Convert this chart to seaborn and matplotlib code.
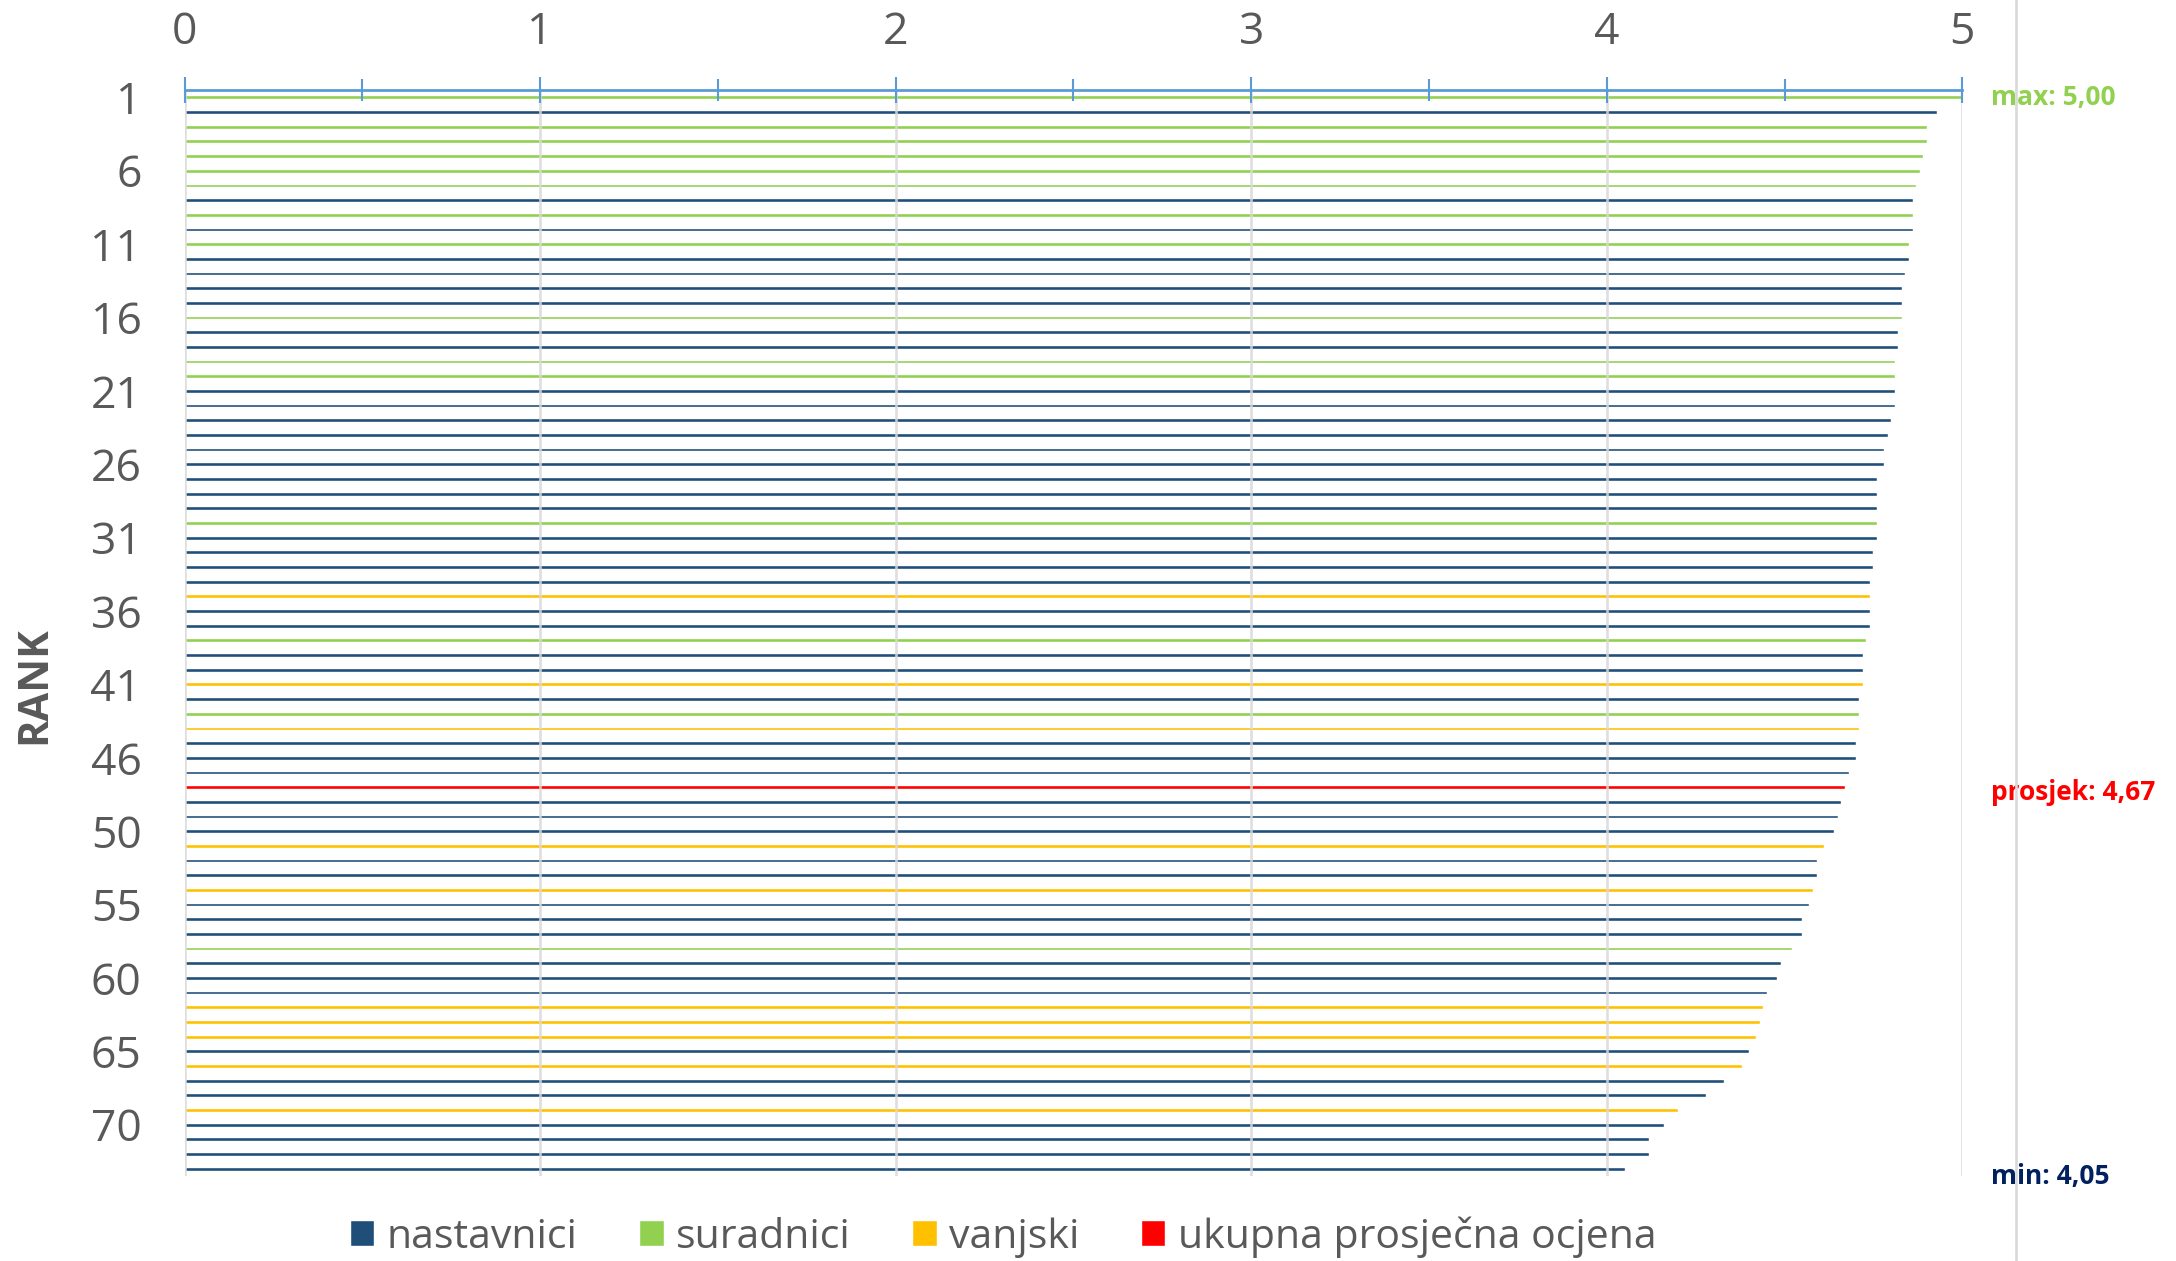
import matplotlib
matplotlib.use("Agg")
import matplotlib.pyplot as plt
import matplotlib.transforms as mtransforms
from matplotlib.lines import Line2D
from matplotlib.patches import Patch
from matplotlib import font_manager
import pandas as pd
import seaborn as sns

# ranked grades 1..73, group of each ranked person
ranks = list(range(1, 74))
grades = [5.00, 4.93, 4.90, 4.90, 4.89, 4.88, 4.87, 4.86, 4.86, 4.86,
          4.85, 4.85, 4.84, 4.83, 4.83, 4.83, 4.82, 4.82, 4.81, 4.81,
          4.81, 4.81, 4.80, 4.79, 4.78, 4.78, 4.76, 4.76, 4.76, 4.76,
          4.76, 4.75, 4.75, 4.74, 4.74, 4.74, 4.74, 4.73, 4.72, 4.72,
          4.72, 4.71, 4.71, 4.71, 4.70, 4.70, 4.68, 4.66, 4.65, 4.64,
          4.61, 4.59, 4.59, 4.58, 4.57, 4.55, 4.55, 4.52, 4.49, 4.48,
          4.45, 4.44, 4.43, 4.42, 4.40, 4.38, 4.33, 4.28, 4.20, 4.16,
          4.12, 4.12, 4.05]
N, S, V = 'nastavnici', 'suradnici', 'vanjski'
groups = [S, N, S, S, S, S, S, N, S, N,
          S, N, N, N, N, S, N, N, S, S,
          N, N, N, N, N, N, N, N, N, S,
          N, N, N, N, V, N, N, S, N, N,
          V, N, S, V, N, N, N, N, N, N,
          V, N, N, V, N, N, N, S, N, N,
          N, V, V, V, N, V, N, N, V, N,
          N, N, N]

avg_label = 'ukupna prosječna ocjena'
avg_grade = 4.67
avg_after_rank = 47

colors = {N: '#1F4E79', S: '#92D050', V: '#FFC000', avg_label: '#FF0000'}

# build the rows, with the overall average inserted after rank 47
row_labels, row_values, row_groups = [], [], []
for r, g, grp in zip(ranks, grades, groups):
    row_labels.append(str(r))
    row_values.append(g)
    row_groups.append(grp)
    if r == avg_after_rank:
        row_labels.append('')
        row_values.append(avg_grade)
        row_groups.append(avg_label)
df = pd.DataFrame({'rang': row_labels, 'ocjena': row_values, 'skupina': row_groups})

sns.set_style('white')
plt.rcParams['font.family'] = ['Open Sans', 'DejaVu Sans']
names = set(font_manager.get_font_names())
if 'Liberation Sans Narrow' in names:
    note_font, note_size = 'Liberation Sans Narrow', 25.5
else:
    note_font, note_size = 'Open Sans', 19

gray = '#595959'
fig = plt.figure(figsize=(21.76, 12.61), dpi=100)
ax = fig.add_axes([0.0848, 0.0674, 0.817, 0.8612])

sns.barplot(data=df, x='ocjena', y='rang', hue='skupina', order=row_labels,
            palette=colors, dodge=False, width=0.26, orient='h',
            saturation=1, legend=False, ax=ax, zorder=2)

n = len(row_labels)
ax.set_xlim(0, 5)
ax.set_ylim(n - 0.5, -0.5)

# value axis on top
ax.xaxis.tick_top()
ax.set_xticks(range(6))
ax.set_xticks([x + 0.5 for x in range(5)], minor=True)
ax.tick_params(axis='x', which='major', direction='inout', length=18.7, width=1.5,
               color='#5B9BD5', labelsize=32, labelcolor=gray, pad=16)
ax.tick_params(axis='x', which='minor', direction='inout', length=16, width=1.5,
               color='#5B9BD5')
ax.set_xlabel('')
ax.set_axisbelow(False)
ax.grid(axis='x', which='major', color='#D9D9D9', linewidth=1.9, alpha=0.85, zorder=3)
for side in ['left', 'right', 'bottom']:
    ax.spines[side].set_visible(False)
ax.spines['top'].set_color('#5B9BD5')
ax.spines['top'].set_linewidth(2.0)
ax.spines['top'].set_zorder(4)

# rank labels every fifth row
tick_pos = list(range(0, n, 5))
tick_pos = [p for p in tick_pos if row_labels[p] != '']
ax.set_yticks(tick_pos)
ax.set_yticklabels([row_labels[p] for p in tick_pos])
ax.tick_params(axis='y', length=0, labelsize=32, labelcolor=gray, pad=31)
ax.set_ylabel('RANK', fontsize=30, fontweight='bold', color=gray)
ax.yaxis.set_label_coords(-0.084, 0.452)
ax.yaxis.label.set_va('center')

# side line with max / average / min notes
fig.add_artist(Line2D([0.9267, 0.9267], [0, 1], transform=fig.transFigure,
                      color='#D9D9D9', linewidth=1.9))
trans = mtransforms.blended_transform_factory(fig.transFigure, ax.transData)
avg_row = row_labels.index('')
notes = [
    ('max: ' + f'{max(grades):.2f}'.replace('.', ','), 0, '#92D050'),
    ('prosjek: ' + f'{avg_grade:.2f}'.replace('.', ','), avg_row + 0.4, '#FF0000'),
    ('min: ' + f'{min(grades):.2f}'.replace('.', ','), n - 0.5, '#002060'),
]
for txt, ypos, col in notes:
    ax.text(0.915, ypos, txt, transform=trans, ha='left', va='center',
            fontsize=note_size, fontweight='bold', color=col, family=note_font,
            bbox=dict(facecolor='white', edgecolor='none', pad=8), zorder=5)

handles = [Patch(facecolor=colors[k]) for k in [N, S, V, avg_label]]
fig.legend(handles, [N, S, V, avg_label], loc='center', bbox_to_anchor=(0.461, 0.019),
           ncol=4, frameon=False, fontsize=29.5, handlelength=0.6, handleheight=0.6,
           handletextpad=0.3, columnspacing=1.5, labelcolor=gray)

fig.savefig('out.png', dpi=100)
